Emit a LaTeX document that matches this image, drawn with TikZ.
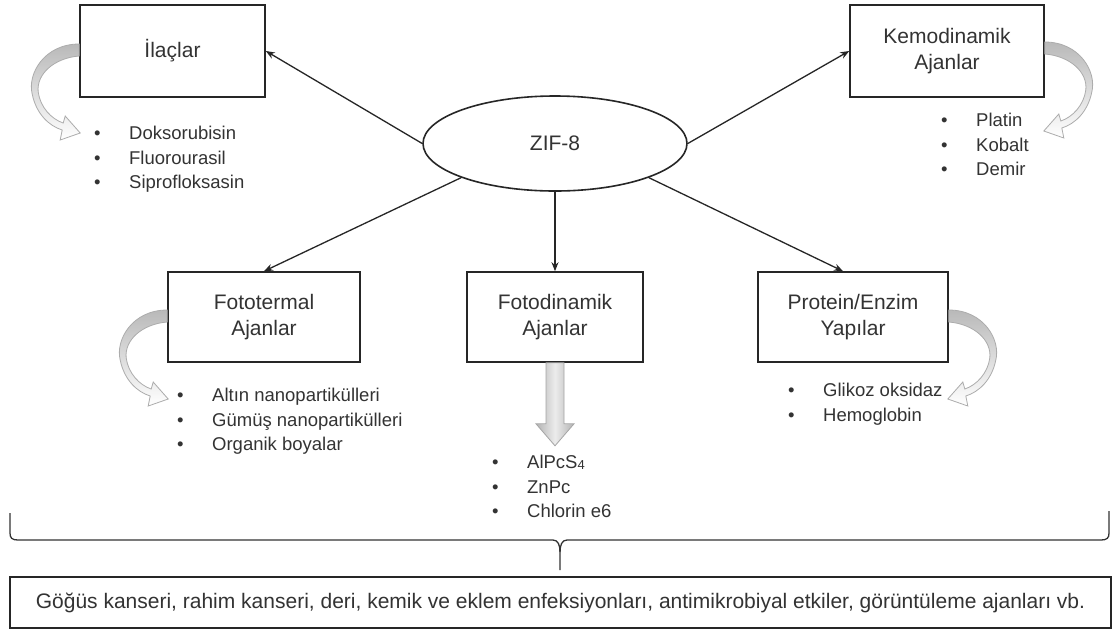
\documentclass[tikz,border=0pt]{standalone}
\usepackage{fontspec}
\setmainfont{Liberation Sans}
\usetikzlibrary{arrows.meta,shapes.geometric,calc}
\begin{document}
\begin{tikzpicture}[x=1pt,y=-1pt,
  boxnode/.style={draw=black!85,line width=1.6pt,fill=white,align=center,
     font=\fontsize{21}{26}\selectfont,text=black!80,inner sep=0pt},
  listnode/.style={anchor=north west,align=left,inner sep=0pt,
     font=\fontsize{18.5}{24.5}\selectfont,text=black!80},
  conn/.style={line width=1.3pt,draw=black!85,-{Stealth[length=9pt,width=7pt]}},
  cvarrow/.style={draw=gray!65,line width=0.8pt,top color=gray!55,bottom color=white},
  curv/.pic={\path[cvarrow] (0,0) .. controls (-35,0) and (-52,30) .. (-47,50)
      .. controls (-43,70) and (-30,82) .. (-17,86) -- (-19,96) -- (1,89) -- (-14,72)
      -- (-16,79) .. controls (-28,75) and (-39,63) .. (-41,48)
      .. controls (-43,30) and (-25,14) .. (0,12) -- cycle;}
]
\newcommand{\bl}[1]{\makebox[35pt][l]{\textbullet}#1}
\useasboundingbox (0,0) rectangle (1116,633);
\fill[white] (0,0) rectangle (1116,633);

% boxes
\node[boxnode,minimum width=185pt,minimum height=92pt] (ilac) at (172.5,51) {İlaçlar};
\node[boxnode,minimum width=194pt,minimum height=92pt] (kemo) at (947,51) {Kemodinamik\\Ajanlar};
\node[boxnode,minimum width=192pt,minimum height=90pt] (ft) at (264,317) {Fototermal\\Ajanlar};
\node[boxnode,minimum width=176pt,minimum height=90pt] (fd) at (555,317) {Fotodinamik\\Ajanlar};
\node[boxnode,minimum width=190pt,minimum height=90pt] (pr) at (853,317) {Protein/Enzim\\Yapılar};
\node[ellipse,draw=black!85,line width=1.6pt,fill=white,minimum width=264pt,minimum height=95pt,
      inner sep=0pt,font=\fontsize{21}{26}\selectfont,text=black!80] (zif) at (555,143.5) {ZIF-8};

% connectors
\draw[conn] (zif.west) -- (ilac.east);
\draw[conn] (zif.east) -- (kemo.west);
\draw[conn] (zif.200) -- (ft.north);
\draw[conn] (zif.south) -- (fd.north);
\coordinate (prin) at ([xshift=-10pt]pr.north);
\draw[conn] (zif.340) -- (prin);

% curved arrows
\pic at ([yshift=7pt]ilac.west) {curv};
\pic[xscale=-1] at ([yshift=9pt]kemo.east) {curv};
\pic at ([yshift=7pt]ft.west) {curv};
\pic[xscale=-1] at ([yshift=7pt]pr.east) {curv};

% down block arrow
\begin{scope}[shift={(fd.south)}]
\path[draw=gray!70,line width=0.8pt,left color=gray!60,right color=gray!60,middle color=gray!15]
  (-9,0) -- (9,0) -- (9,61) -- (19,61) -- (0,83) -- (-19,61) -- (-9,61) -- cycle;
\end{scope}

% lists
\node[listnode] (l1) at (94,126) {\bl{Doksorubisin}\\\bl{Fluorourasil}\\\bl{Siprofloksasin}};
\node[listnode] (l2) at (941,113) {\bl{Platin}\\\bl{Kobalt}\\\bl{Demir}};
\node[listnode] (l3) at (177,388) {\bl{Altın nanopartikülleri}\\\bl{Gümüş nanopartikülleri}\\\bl{Organik boyalar}};
\node[listnode] (l4) at (492,455) {\bl{AlPcS\raisebox{-1pt}{\fontsize{13}{13}\selectfont 4}}\\\bl{ZnPc}\\\bl{Chlorin e6}};
\node[listnode] (l5) at (788,383) {\bl{Glikoz oksidaz}\\\bl{Hemoglobin}};

% brace
\coordinate (btip) at (560,570);
\draw[black!80,line width=1.3pt] (10,513) -- (10,533) .. controls (10,538) and (12,540) .. (18,540)
   -- (553,540) .. controls (558,540) and (560,545) .. (560,552) -- (btip);
\draw[black!80,line width=1.3pt] (1109,511) -- (1109,533) .. controls (1109,538) and (1107,540) .. (1101,540)
   -- (567,540) .. controls (562,540) and (560,545) .. (560,552);

% bottom box
\node[draw=black!85,line width=1.6pt,minimum width=1101pt,minimum height=51pt,inner sep=0pt,
      font=\fontsize{21}{24}\selectfont,text=black!80] (bottom) at (560.5,602.5)
  {Göğüs kanseri, rahim kanseri, deri, kemik ve eklem enfeksiyonları, antimikrobiyal etkiler, görüntüleme ajanları vb.};
\end{tikzpicture}
\end{document}
